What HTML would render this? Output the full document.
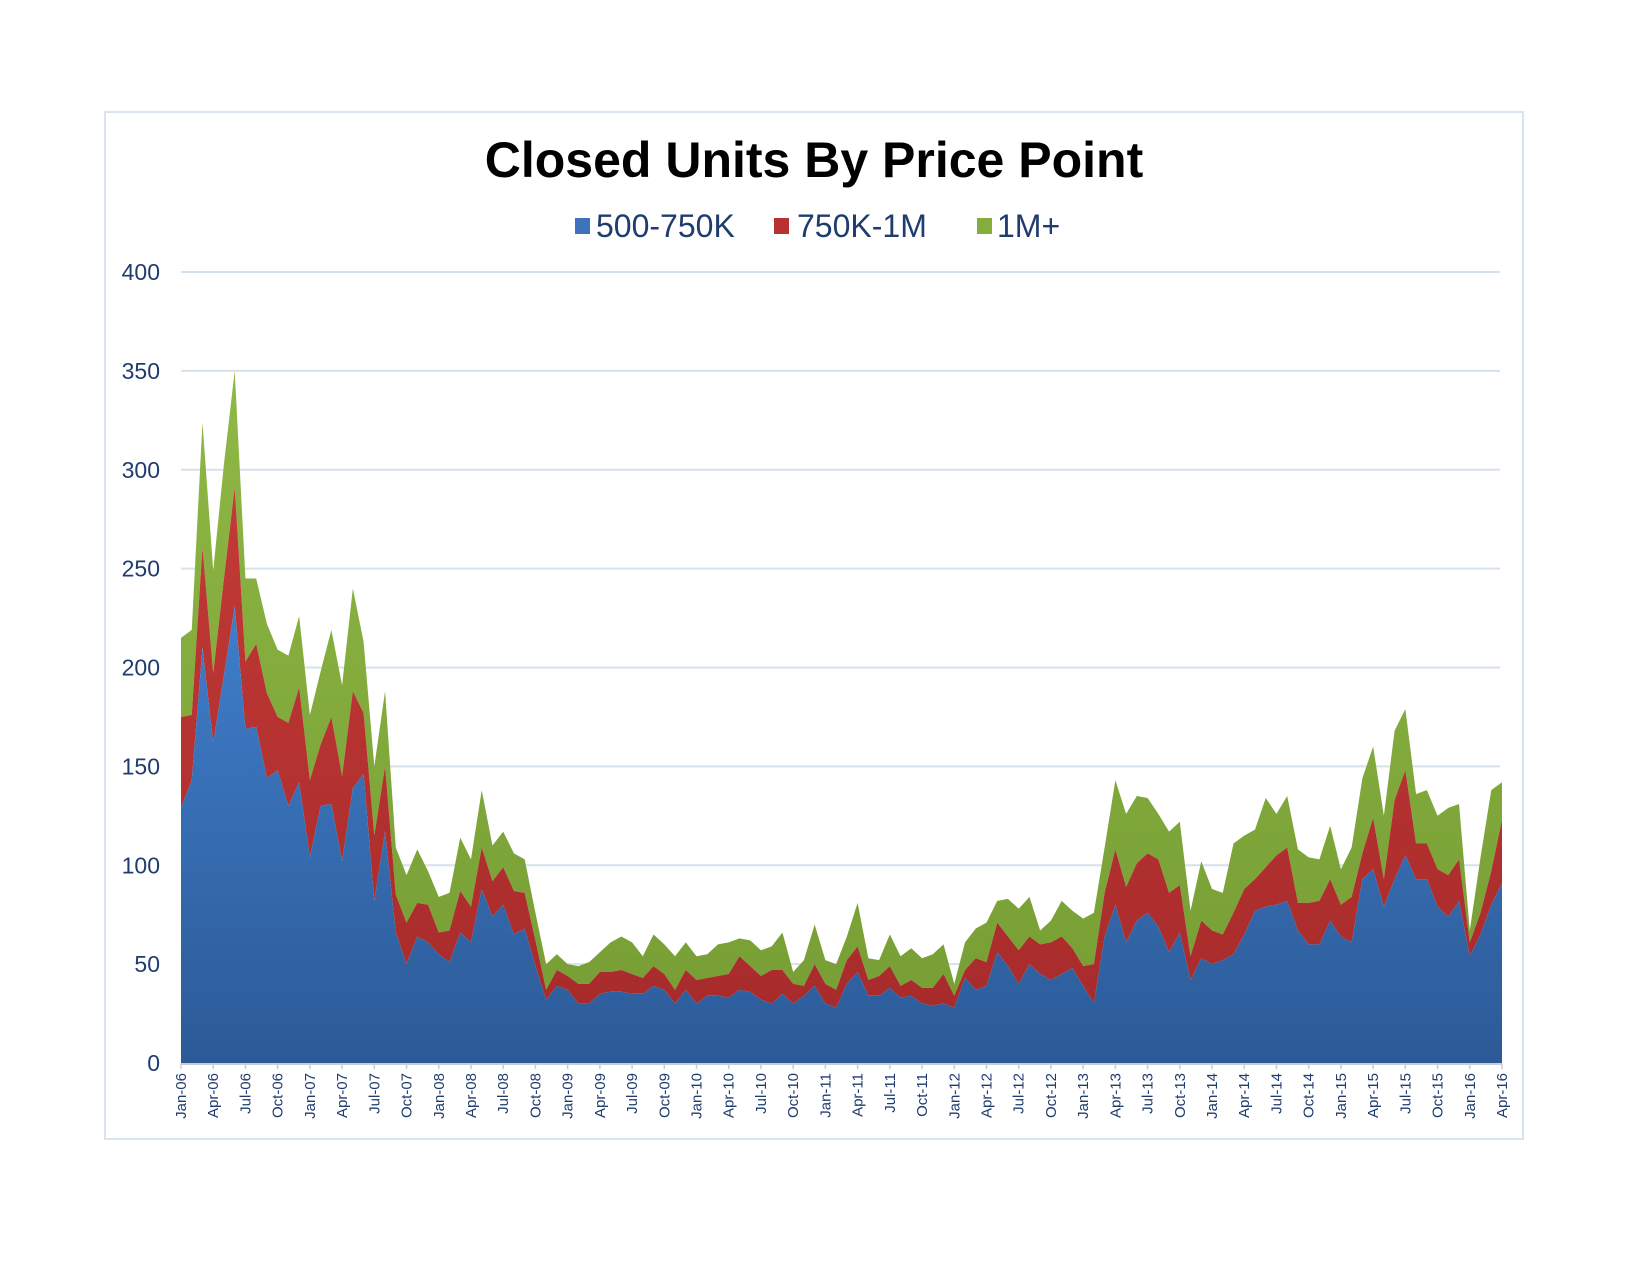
<!DOCTYPE html>
<html><head><meta charset="utf-8"><style>
html,body{margin:0;padding:0;background:#fff;}
svg{display:block;font-family:"Liberation Sans",Arial,sans-serif;}
</style></head><body>
<svg id="chart" width="1650" height="1275" viewBox="0 0 1650 1275">
<defs>
<linearGradient id="gBlue" x1="0" y1="0" x2="0" y2="1"><stop offset="0" stop-color="#3f7ecb"/><stop offset="1" stop-color="#2c5a97"/></linearGradient>
<linearGradient id="gRed" x1="0" y1="0" x2="0" y2="1"><stop offset="0" stop-color="#c23a36"/><stop offset="1" stop-color="#a82b2b"/></linearGradient>
<linearGradient id="gGreen" x1="0" y1="0" x2="0" y2="1"><stop offset="0" stop-color="#8fb845"/><stop offset="1" stop-color="#779f35"/></linearGradient>
</defs>
<rect x="105" y="112" width="1418" height="1027" fill="#fff" stroke="#d9e4ee" stroke-width="2"/>
<text x="814" y="177" text-anchor="middle" font-size="50" font-weight="bold" fill="#000">Closed Units By Price Point</text>
<g>
<g><rect x="575" y="218" width="15" height="16" fill="#3b74bd"/><text x="596" y="237" font-size="32" fill="#1f3c6e">500-750K</text></g>
<g><rect x="774" y="218" width="15" height="16" fill="#b83232"/><text x="797" y="237" font-size="32" fill="#1f3c6e">750K-1M</text></g>
<g><rect x="977" y="218" width="15" height="16" fill="#84ad3e"/><text x="997" y="237" font-size="32" fill="#1f3c6e">1M+</text></g>
</g>
<g id="grid"></g><g id="areas"></g><g id="axes"></g>
</svg>
<script>
const yTicks=[0,50,100,150,200,250,300,350,400];
const monthNames=["Jan","Feb","Mar","Apr","May","Jun","Jul","Aug","Sep","Oct","Nov","Dec"];
const blueVals=[129,143,210,162,196,231,169,170,144,148,130,142,104,130,131,102,139,146,82,117,66,50,64,61,55,51,66,61,88,74,80,65,68,49,32,39,37,30,30,35,36,36,35,35,39,37,30,37,30,34,34,33,37,36,32,30,35,30,34,39,30,28,40,46,34,34,38,33,34,30,29,30,28,43,37,39,56,49,40,50,45,42,45,48,39,30,64,80,61,72,76,69,56,66,42,53,50,52,55,65,77,79,80,82,67,60,60,72,64,61,93,98,79,93,105,93,93,79,74,82,54,65,80,91];
const redVals=[46,33,51,35,49,60,34,42,43,27,42,48,39,31,44,43,49,31,33,33,19,21,17,19,11,16,21,18,21,18,19,22,18,13,5,8,7,10,10,11,10,11,10,8,10,8,7,10,12,9,10,12,17,13,12,17,12,10,5,11,10,9,12,13,8,10,11,6,8,8,9,15,6,4,16,12,15,15,17,14,15,19,19,10,10,20,22,28,28,29,30,34,30,24,12,19,17,13,21,23,16,20,25,27,14,21,22,21,16,23,13,26,14,40,43,18,18,19,21,21,7,11,17,32];
const greenVals=[40,43,63,52,58,59,42,33,35,34,34,36,33,37,44,46,52,36,35,38,24,24,27,17,18,19,27,24,29,18,18,19,17,14,13,8,6,9,11,10,15,17,16,11,16,15,17,14,12,12,16,16,9,13,13,12,19,6,13,20,12,13,12,22,11,8,16,15,16,15,17,15,6,14,15,20,11,19,21,20,7,11,18,19,24,26,23,35,37,34,28,23,31,32,23,30,21,21,35,27,25,35,21,26,27,23,21,27,18,25,38,36,32,35,31,25,27,27,34,28,6,28,41,19];
const NS="http://www.w3.org/2000/svg";
const X0=181,X1=1502,Y0=1063,Y1=272,YMAX=400;
const n=blueVals.length;
function xs(i){return X0+(X1-X0)*i/(n-1);}
function ys(v){return Y0-(Y0-Y1)*v/YMAX;}
function mk(tag,attrs){const e=document.createElementNS(NS,tag);for(const k in attrs)e.setAttribute(k,attrs[k]);return e;}
const grid=document.getElementById('grid'),areas=document.getElementById('areas'),axes=document.getElementById('axes');
yTicks.forEach(t=>{
  if(t>0){const l=mk('line',{x1:X0,x2:X1-2,y1:ys(t),y2:ys(t),stroke:'#d5e2ee','stroke-width':2});
  
  
  grid.appendChild(l);}
  const tx=mk('text',{x:160,y:ys(t)+8,'text-anchor':'end','font-size':23,fill:'#1f3c6e'});
  tx.textContent=t;
  
  
  axes.appendChild(tx);
});
const lower=new Array(n).fill(0);
const series=[[blueVals,'url(#gBlue)','area-500-750k'],[redVals,'url(#gRed)','area-750k-1m'],[greenVals,'url(#gGreen)','area-1m-plus']];
series.forEach(s=>{
  const vals=s[0];const upper=lower.map((b,i)=>b+vals[i]);
  let d='M'+xs(0)+','+ys(upper[0]);
  for(let i=1;i<n;i++)d+=' L'+xs(i).toFixed(2)+','+ys(upper[i]).toFixed(2);
  for(let i=n-1;i>=0;i--)d+=' L'+xs(i).toFixed(2)+','+ys(lower[i]).toFixed(2);
  d+='Z';
  const p=mk('path',{d:d,fill:s[1]});
  
  
  areas.insertBefore(p,areas.firstChild);
  for(let i=0;i<n;i++)lower[i]=upper[i];
});
const ax=mk('line',{x1:X0,x2:X1,y1:Y0+1,y2:Y0+1,stroke:'#c8cdd3','stroke-width':2});


axes.appendChild(ax);
for(let i=0;i<n;i+=3){
  const x=xs(i);
  const tk=mk('line',{x1:x,x2:x,y1:Y0+1,y2:Y0+6,stroke:'#c8cdd3','stroke-width':1.5});
  
  
  axes.appendChild(tk);
  const yr=6+Math.floor(i/12);
  const lab=monthNames[i%12]+'-'+(yr<10?'0'+yr:yr);
  const t=mk('text',{transform:'translate('+(x+5)+','+(Y0+10)+') rotate(-90)','text-anchor':'end','font-size':15,fill:'#1f3c6e'});
  t.textContent=lab;
  
  
  axes.appendChild(t);
}
</script>
</body></html>
